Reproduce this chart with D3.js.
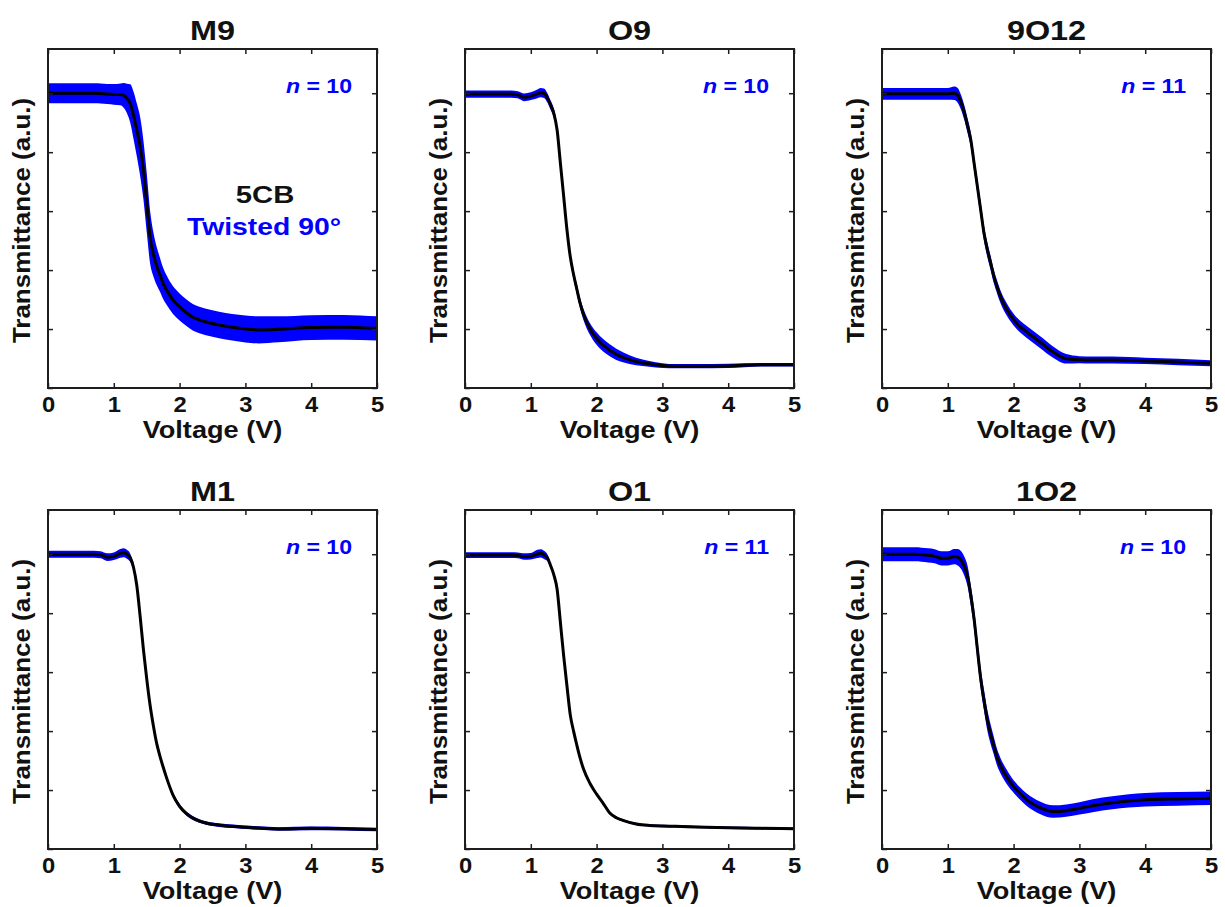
<!DOCTYPE html>
<html>
<head>
<meta charset="utf-8">
<script src="https://cdn.jsdelivr.net/npm/d3@7.9.0/dist/d3.min.js"></script>
<style>
  body { margin: 0; background: #fff; }
  svg text { font-family: "Liberation Sans", Arial, sans-serif; font-weight: bold; }
</style>
</head>
<body>
<svg id="chart" width="1225" height="907"></svg>
<script>
// Shared voltage grid (V), denser around the switching threshold
const voltage = [0, 0.5, 0.7, 0.8, 0.9, 1.0, 1.1, 1.15, 1.2, 1.25, 1.3, 1.35, 1.4, 1.45, 1.5, 1.55, 1.6, 1.65, 1.7, 1.75, 1.8, 1.9, 2.0, 2.1, 2.2, 2.3, 2.4, 2.6, 2.8, 3.0, 3.2, 3.5, 4.0, 4.5, 5.0];

const panelNames = ['M9', 'O9', '9O12', 'M1', 'O1', '1O2'];
const sampleCounts = [10, 10, 11, 10, 11, 10];
const yTicks = [0, 0.2, 0.4, 0.6, 0.8, 1.0];

// Mean normalized transmittance and standard deviation
const meanM9 = [1.0, 1.0, 1.0, 0.999, 0.997, 0.996, 0.996, 0.993, 0.982, 0.965, 0.925, 0.875, 0.82, 0.74, 0.63, 0.515, 0.455, 0.415, 0.385, 0.355, 0.333, 0.298, 0.275, 0.256, 0.24, 0.231, 0.224, 0.214, 0.206, 0.2, 0.197, 0.199, 0.205, 0.206, 0.202];
const sdM9 = [0.034, 0.034, 0.034, 0.034, 0.034, 0.035, 0.037, 0.042, 0.05, 0.065, 0.08, 0.09, 0.1, 0.1, 0.1, 0.09, 0.075, 0.065, 0.058, 0.053, 0.05, 0.047, 0.046, 0.045, 0.045, 0.045, 0.045, 0.045, 0.045, 0.046, 0.046, 0.044, 0.042, 0.042, 0.041];

const meanO9 = [0.997, 0.997, 0.997, 0.995, 0.986, 0.99, 0.998, 1.002, 1.0, 0.985, 0.96, 0.932, 0.875, 0.762, 0.649, 0.536, 0.445, 0.385, 0.335, 0.287, 0.25, 0.2, 0.168, 0.145, 0.128, 0.114, 0.104, 0.09, 0.082, 0.076, 0.074, 0.074, 0.075, 0.079, 0.079];
const sdO9 = [0.012, 0.012, 0.012, 0.012, 0.013, 0.013, 0.015, 0.016, 0.016, 0.016, 0.016, 0.016, 0.015, 0.015, 0.015, 0.015, 0.015, 0.016, 0.017, 0.018, 0.019, 0.02, 0.021, 0.021, 0.02, 0.019, 0.017, 0.013, 0.01, 0.008, 0.007, 0.007, 0.007, 0.006, 0.006];

const mean9O12 = [0.998, 0.998, 0.998, 0.998, 0.998, 0.998, 1.0, 0.993, 0.97, 0.935, 0.89, 0.841, 0.762, 0.683, 0.604, 0.525, 0.47, 0.425, 0.378, 0.342, 0.31, 0.265, 0.232, 0.208, 0.19, 0.173, 0.156, 0.122, 0.099, 0.096, 0.095, 0.095, 0.092, 0.088, 0.084];
const sd9O12 = [0.02, 0.02, 0.02, 0.02, 0.02, 0.02, 0.023, 0.025, 0.025, 0.025, 0.025, 0.025, 0.025, 0.025, 0.025, 0.025, 0.025, 0.024, 0.023, 0.022, 0.022, 0.021, 0.02, 0.02, 0.02, 0.02, 0.02, 0.019, 0.016, 0.012, 0.012, 0.012, 0.011, 0.011, 0.01];

const meanM1 = [1.0, 1.0, 1.0, 0.998, 0.99, 0.993, 1.003, 1.005, 1.0, 0.988, 0.955, 0.893, 0.79, 0.677, 0.578, 0.49, 0.42, 0.36, 0.316, 0.278, 0.243, 0.183, 0.145, 0.121, 0.105, 0.095, 0.088, 0.081, 0.077, 0.074, 0.071, 0.068, 0.07, 0.069, 0.066];
const sdM1 = [0.012, 0.012, 0.012, 0.012, 0.013, 0.013, 0.015, 0.015, 0.015, 0.014, 0.012, 0.01, 0.01, 0.01, 0.01, 0.01, 0.01, 0.01, 0.009, 0.009, 0.008, 0.008, 0.008, 0.007, 0.007, 0.006, 0.006, 0.006, 0.006, 0.006, 0.006, 0.006, 0.006, 0.006, 0.006];

const meanO1 = [0.997, 0.997, 0.997, 0.996, 0.992, 0.993, 1.001, 1.003, 0.998, 0.989, 0.962, 0.93, 0.881, 0.768, 0.654, 0.552, 0.455, 0.4, 0.352, 0.308, 0.272, 0.222, 0.186, 0.155, 0.122, 0.106, 0.097, 0.085, 0.08, 0.078, 0.077, 0.075, 0.072, 0.07, 0.069];
const sdO1 = [0.01, 0.01, 0.01, 0.01, 0.011, 0.011, 0.014, 0.014, 0.014, 0.012, 0.008, 0.005, 0.004, 0.004, 0.004, 0.004, 0.004, 0.004, 0.004, 0.004, 0.004, 0.004, 0.004, 0.004, 0.004, 0.004, 0.004, 0.004, 0.004, 0.004, 0.004, 0.004, 0.004, 0.004, 0.004];

const mean1O2 = [1.0, 1.0, 0.996, 0.993, 0.986, 0.986, 0.992, 0.99, 0.981, 0.96, 0.926, 0.86, 0.78, 0.677, 0.578, 0.505, 0.438, 0.39, 0.35, 0.31, 0.283, 0.243, 0.212, 0.188, 0.167, 0.152, 0.14, 0.127, 0.13, 0.138, 0.147, 0.157, 0.167, 0.17, 0.172];
const sd1O2 = [0.024, 0.024, 0.024, 0.024, 0.024, 0.024, 0.026, 0.028, 0.03, 0.032, 0.035, 0.035, 0.035, 0.035, 0.035, 0.035, 0.035, 0.033, 0.03, 0.028, 0.026, 0.024, 0.021, 0.021, 0.021, 0.021, 0.021, 0.021, 0.021, 0.021, 0.022, 0.022, 0.023, 0.023, 0.023];

const means = [meanM9, meanO9, mean9O12, meanM1, meanO1, mean1O2];
const sds = [sdM9, sdO9, sd9O12, sdM1, sdO1, sd1O2];

// Layout
const lefts = [48, 465, 882];
const tops = [49, 510];
const W = 329, H = 339;
const blue = '#0000ff';
const frameColor = '#1e1e1e';

const svg = d3.select('#chart');

const x = d3.scaleLinear().domain([0, 5]).range([0, W]);
const y = d3.scaleLinear().domain([0, 1.15]).range([H, 0]);

const band = d3.area()
  .x(d => x(d.v))
  .y0(d => y(d.m - d.s))
  .y1(d => y(d.m + d.s))
  .curve(d3.curveMonotoneX);

const meanLine = d3.line()
  .x(d => x(d.v))
  .y(d => y(d.m))
  .curve(d3.curveMonotoneX);

panelNames.forEach((name, i) => {
  const col = i % 3, row = Math.floor(i / 3);
  const g = svg.append('g').attr('transform', `translate(${lefts[col]},${tops[row]})`);
  const rows = voltage.map((v, j) => ({ v, m: means[i][j], s: sds[i][j] }));

  // error band + mean curve
  g.append('path').datum(rows).attr('d', band).attr('fill', blue);
  g.append('path').datum(rows).attr('d', meanLine)
    .attr('fill', 'none').attr('stroke', '#000').attr('stroke-width', 3);

  // inward ticks on all four sides
  const tickAxes = [
    [d3.axisTop(x).ticks(5), `translate(0,0)`],
    [d3.axisLeft(y).tickValues(yTicks), `translate(0,0)`],
    [d3.axisRight(y).tickValues(yTicks), `translate(${W},0)`]
  ];
  tickAxes.forEach(([ax, tr]) => {
    const a = g.append('g').attr('transform', tr)
      .call(ax.tickSizeInner(-5).tickSizeOuter(0).tickFormat(''));
    a.select('.domain').remove();
    a.selectAll('line').attr('stroke', frameColor).attr('stroke-width', 1.5);
  });

  const bottom = g.append('g').attr('transform', `translate(0,${H})`)
    .call(d3.axisBottom(x).ticks(5).tickSizeInner(-5).tickSizeOuter(0).tickPadding(8));
  bottom.attr('font-size', null).attr('font-family', null);
  bottom.select('.domain').remove();
  bottom.selectAll('line').attr('stroke', frameColor).attr('stroke-width', 1.5);
  bottom.selectAll('text').attr('fill', '#111').style('font-size', '22px')
    .attr('transform', 'scale(1.08,1)');

  // frame
  g.append('rect').attr('width', W).attr('height', H)
    .attr('fill', 'none').attr('stroke', frameColor).attr('stroke-width', 2);

  // title
  g.append('text').attr('transform', `translate(${W / 2},-9) scale(1.2,1)`)
    .attr('text-anchor', 'middle').style('font-size', '27px').attr('fill', '#111')
    .text(name);

  // axis labels
  g.append('text').attr('transform', `translate(${W / 2},${H + 50}) scale(1.18,1)`)
    .attr('text-anchor', 'middle').style('font-size', '23px').attr('fill', '#111')
    .text('Voltage (V)');
  g.append('text').attr('transform', `translate(-18,${H / 2 + 2}) rotate(-90) scale(1.06,1)`)
    .attr('text-anchor', 'middle').style('font-size', '24.5px').attr('fill', '#111')
    .text('Transmittance (a.u.)');

  // sample size
  const nt = g.append('text').attr('transform', `translate(${W - 25},44) scale(1.1,1)`)
    .attr('text-anchor', 'end').style('font-size', '21px').attr('fill', blue);
  nt.append('tspan').style('font-style', 'italic').text('n');
  nt.append('tspan').text(` = ${sampleCounts[i]}`);

  if (i === 0) {
    g.append('text').attr('transform', 'translate(217,154) scale(1.22,1)')
      .attr('text-anchor', 'middle').style('font-size', '24px').attr('fill', '#111')
      .text('5CB');
    g.append('text').attr('transform', 'translate(216,186) scale(1.18,1)')
      .attr('text-anchor', 'middle').style('font-size', '24px').attr('fill', blue)
      .text('Twisted 90°');
  }
});
</script>
</body>
</html>
